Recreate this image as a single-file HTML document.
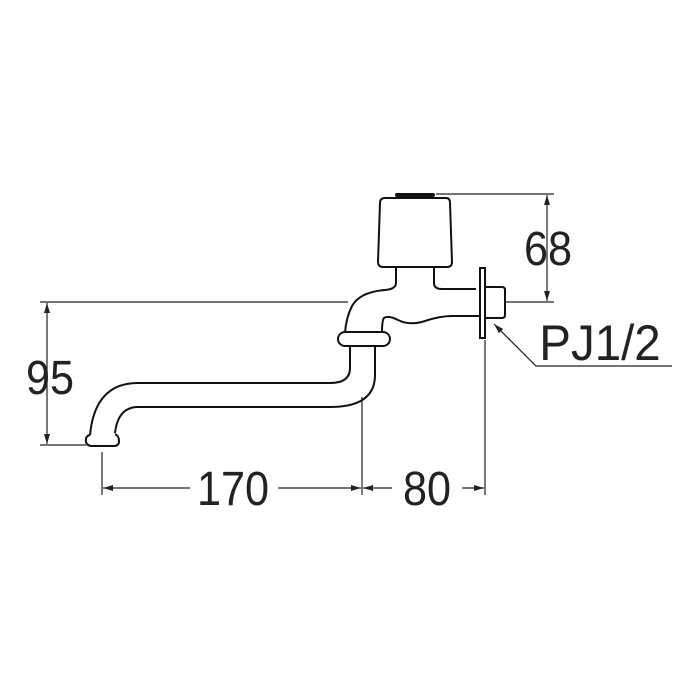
<!DOCTYPE html>
<html><head><style>html,body{margin:0;padding:0;background:#fff}svg{display:block}</style></head><body>
<svg width="700" height="700" viewBox="0 0 700 700" xmlns="http://www.w3.org/2000/svg">
<defs><marker id="a" viewBox="0 0 10 6" refX="10" refY="3" markerWidth="10" markerHeight="6" orient="auto-start-reverse" markerUnits="userSpaceOnUse"><path d="M0,0 L10,3 L0,6 z" fill="#222"/></marker></defs>
<g fill="none" stroke="#222" stroke-width="1.2">
<line x1="40" y1="302" x2="348" y2="302"/>
<line x1="40" y1="445" x2="86" y2="445"/>
<line x1="47" y1="303" x2="47" y2="444" marker-start="url(#a)" marker-end="url(#a)"/>
<line x1="436" y1="194" x2="554" y2="194"/>
<line x1="506" y1="302" x2="554" y2="302"/>
<line x1="547" y1="195" x2="547" y2="301" marker-start="url(#a)" marker-end="url(#a)"/>
<line x1="102" y1="452" x2="102" y2="495"/>
<line x1="362" y1="397" x2="362" y2="495"/>
<line x1="485" y1="340" x2="485" y2="495"/>
<line x1="103" y1="488" x2="190" y2="488" marker-start="url(#a)"/>
<line x1="278" y1="488" x2="361" y2="488" marker-end="url(#a)"/>
<line x1="363" y1="488" x2="392" y2="488" marker-start="url(#a)"/>
<line x1="462" y1="488" x2="484" y2="488" marker-end="url(#a)"/>
<polyline points="672,366 536,366 494,324" marker-end="url(#a)"/>
</g>
<g fill="none" stroke="#111" stroke-width="2">
<path d="M397,195 L433,195" stroke-width="4" stroke-linecap="round"/>
<path d="M385,198 L446,198 Q450,198 450,203 L452,262 Q452,267 447,267 L383,267 Q378,267 378,262 L380,203 Q380,198 385,198 Z" fill="#fff"/>
<path d="M396,267 L396,283 Q396,289 385,290 Q360,292 352,306 Q346,318 345,333"/>
<path d="M434,267 L434,283 Q434,289 442,289 L476,289"/>
<path d="M481,316 L452,316 Q440,316 425,321 Q410,326 398,320 Q388,315 384,318 Q382,320 382,333"/>
<rect x="480" y="268" width="5" height="70" fill="#fff"/>
<path d="M485,287 L502,287 Q505,287 505,290 L505,315 Q505,318 502,318 L485,318"/>
<rect x="338" y="332" width="52" height="14" rx="7" fill="#fff"/>
<path d="M350,346 L350,368 Q350,383 330,383 L138,383 Q95,383 90,435"/>
<path d="M375,346 L375,375 Q375,407 330,407 L138,407 Q118,407 115,433"/>
<path d="M90,435 Q85,436 86,442 Q87,446 92,446 L114,446 Q119,446 119,441 Q119,436 115,434"/>
</g>
<g font-family="'Liberation Sans',sans-serif" fill="#222" font-size="48">
<text text-anchor="middle" transform="translate(233 505) scale(0.9 1)">170</text>
<text text-anchor="middle" transform="translate(427 505) scale(0.9 1)">80</text>
<text text-anchor="middle" transform="translate(50 394) scale(0.9 1)">95</text>
<text text-anchor="middle" transform="translate(548 265) scale(0.9 1)">68</text>
<text text-anchor="middle" font-size="50" transform="translate(600 360) scale(0.95 1)">PJ1/2</text>
</g>
</svg>
</body></html>
